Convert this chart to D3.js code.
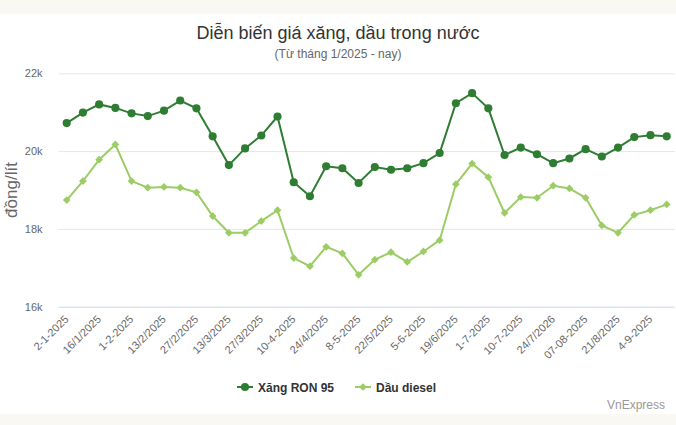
<!DOCTYPE html>
<html>
<head>
<meta charset="utf-8">
<script src="https://cdn.jsdelivr.net/npm/d3@7"></script>
<style>
body {margin: 0; background: #fff; font-family: "Liberation Sans", Arial, sans-serif;}
svg {display: block;}
</style>
</head>
<body>
<svg id="chart" width="676" height="425"></svg>
<script>
// categories (every second one is shown on the axis)
var dates = ["2-1-2025","9-1-2025","16/1/2025","23/1/2025","1-2-2025","6-2-2025","13/2/2025","20/2/2025",
  "27/2/2025","6-3-2025","13/3/2025","20/3/2025","27/3/2025","3-4-2025","10-4-2025","17/4/2025",
  "24/4/2025","29/4/2025","8-5-2025","15/5/2025","22/5/2025","29/5/2025","5-6-2025","12-6-2025",
  "19/6/2025","24/6/2025","1-7-2025","3-7-2025","10-7-2025","17/7/2025","24/7/2026","31/7/2025",
  "07-08-2025","14/8/2025","21/8/2025","28/8/2025","4-9-2025","11-9-2025"];

var ron95 = [20720,20990,21200,21110,20970,20900,21040,21300,21100,20380,19640,20070,20400,20890,
  19200,18840,19610,19560,19180,19590,19520,19560,19690,19950,21230,21490,21100,19900,20090,19920,
  19690,19810,20050,19860,20090,20360,20410,20380];

var diesel = [18740,19230,19780,20170,19230,19060,19080,19060,18940,18330,17900,17900,18200,18480,
  17250,17040,17540,17370,16820,17210,17400,17150,17420,17710,19150,19680,19330,18410,18820,18800,
  19110,19040,18800,18090,17900,18360,18480,18630];

var yTicks = [16000, 18000, 20000, 22000];

var seriesNames = ["Xăng RON 95", "Dầu diesel"];
var seriesColors = ["#2e7d32", "#9ccc65"];

var svg = d3.select("#chart");
var W = 676, H = 425;
var plotLeft = 58.6, plotRight = 674.8, plotTop = 73.3, plotBottom = 306.7;

// beige strips top and bottom
svg.append("rect").attr("x", 0).attr("y", 0).attr("width", W).attr("height", 14).attr("fill", "#f9f8f3");
svg.append("rect").attr("x", 0).attr("y", 414).attr("width", W).attr("height", 11).attr("fill", "#f9f8f3");

var x = d3.scalePoint().domain(dates).range([plotLeft, plotRight]).padding(0.5);
var y = d3.scaleLinear().domain([16000, 22000]).range([plotBottom, plotTop]);

// title
svg.append("text").attr("x", 338).attr("y", 39).attr("text-anchor", "middle")
  .attr("font-size", 18).attr("fill", "#333").text("Diễn biến giá xăng, dầu trong nước");
svg.append("text").attr("x", 338).attr("y", 58).attr("text-anchor", "middle")
  .attr("font-size", 12).attr("fill", "#666").text("(Từ tháng 1/2025 - nay)");

// y grid + labels
var yAxis = svg.append("g").attr("transform", "translate(" + plotLeft + ",0)")
  .call(d3.axisLeft(y).tickValues(yTicks).tickSize(-(plotRight - plotLeft)).tickPadding(16)
    .tickFormat(function(d){ return (d / 1000) + "k"; }));
yAxis.select(".domain").remove();
yAxis.selectAll(".tick line").attr("stroke", "#e6e6e6");
yAxis.selectAll(".tick:first-of-type line").attr("stroke", "#ccd6eb");
yAxis.selectAll("text").attr("font-size", 11).attr("fill", "#666").attr("font-family", "Liberation Sans, Arial, sans-serif");

svg.append("text").attr("transform", "translate(17,190) rotate(-90)")
  .attr("text-anchor", "middle").attr("font-size", 17).attr("fill", "#666").text("đồng/lít");

// x axis labels
var xAxis = svg.append("g").attr("transform", "translate(0," + plotBottom + ")")
  .call(d3.axisBottom(x).tickValues(dates.filter(function(d, i){ return i % 2 == 0; })).tickSize(0));
xAxis.select(".domain").remove();
xAxis.selectAll("text")
  .attr("font-size", 11).attr("fill", "#666").attr("font-family", "Liberation Sans, Arial, sans-serif")
  .attr("text-anchor", "end").attr("dy", 0)
  .attr("transform", "translate(0,11) rotate(-45)");

// markers: circle for RON 95, rotated square (diamond) for diesel
function marker(s) {
  return s == 0 ? d3.symbol().type(d3.symbolCircle).size(52)() : d3.symbol().type(d3.symbolSquare).size(30)();
}
function markerRot(s) { return s == 0 ? "" : " rotate(45)"; }

// lines
var allSeries = [ron95, diesel];
var line = d3.line().x(function(d, i){ return x(dates[i]); }).y(function(d){ return y(d); });

allSeries.forEach(function(data, s) {
  svg.append("path").datum(data).attr("d", line).attr("fill", "none")
    .attr("stroke", seriesColors[s]).attr("stroke-width", 2);
  svg.append("g").selectAll("path").data(data).enter().append("path")
    .attr("d", marker(s))
    .attr("transform", function(d, i){ return "translate(" + x(dates[i]) + "," + y(d) + ")" + markerRot(s); })
    .attr("fill", seriesColors[s]);
});

// legend
var legendX = [237, 355];
seriesNames.forEach(function(name, s) {
  var g = svg.append("g").attr("transform", "translate(" + legendX[s] + ",387)");
  g.append("line").attr("x1", 0).attr("x2", 16).attr("stroke", seriesColors[s]).attr("stroke-width", 2);
  g.append("path").attr("d", marker(s))
    .attr("transform", "translate(8,0)" + markerRot(s)).attr("fill", seriesColors[s]);
  g.append("text").attr("x", 21).attr("y", 4.5).attr("font-size", 12).attr("font-weight", "bold")
    .attr("fill", "#333").text(name);
});

// credit
svg.append("text").attr("x", 665).attr("y", 409).attr("text-anchor", "end")
  .attr("font-size", 12).attr("fill", "#999").text("VnExpress");
</script>
</body>
</html>
